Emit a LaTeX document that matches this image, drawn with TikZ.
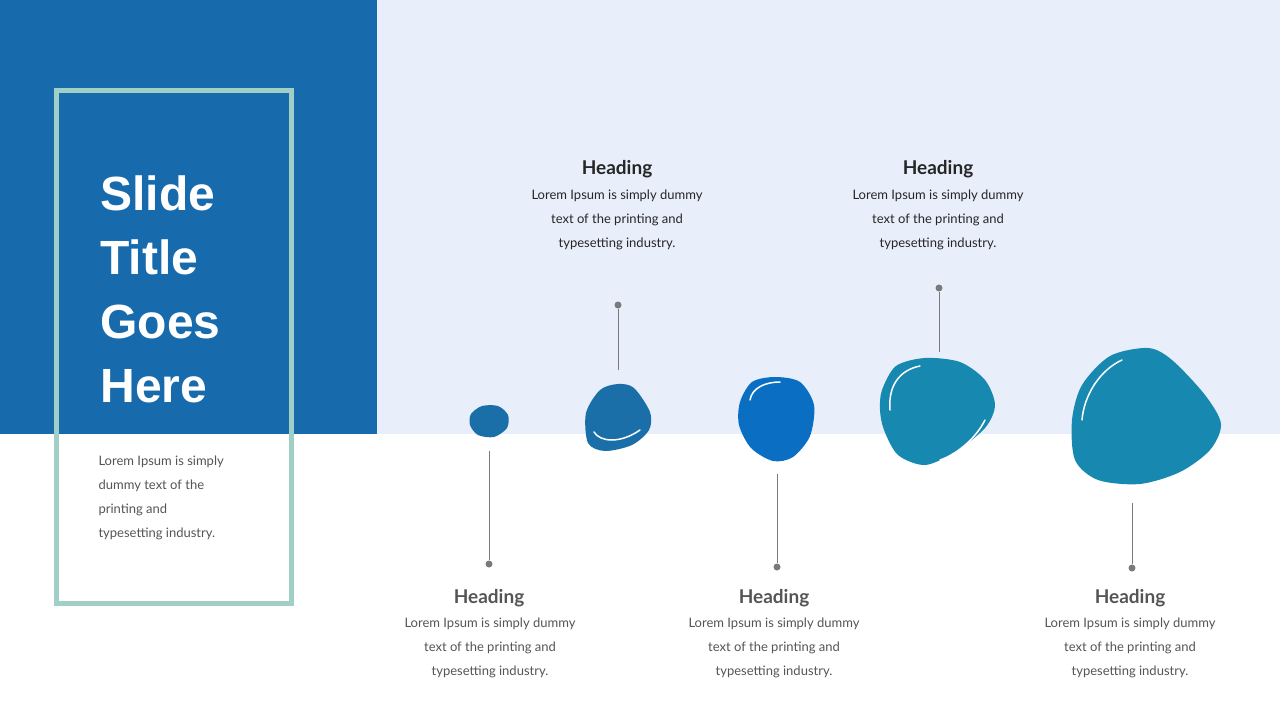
\documentclass[tikz,border=0pt]{standalone}
\usepackage{fontspec}
\usetikzlibrary{calc}
\setmainfont{Lato}
\newfontfamily\titlefont{Liberation Sans}
\definecolor{dblue}{HTML}{176BAD}
\definecolor{lbg}{HTML}{E8EFFA}
\definecolor{frame}{HTML}{9FCFC6}
\definecolor{bA}{HTML}{1A6FA8}
\definecolor{bC}{HTML}{0A6FC2}
\definecolor{bD}{HTML}{1789B0}
\definecolor{lgray}{HTML}{7A7A7A}
\definecolor{tgray}{HTML}{555555}
\begin{document}
\begin{tikzpicture}[x=1pt,y=-1pt,
  body/.style={align=center,font=\fontsize{13}{24}\selectfont,text=#1},
  head/.style={font=\fontsize{19}{22}\selectfont\bfseries,text=#1},
  pin/.style={draw=lgray,line width=1pt},
  dot/.style={circle,fill=lgray,inner sep=0pt,minimum size=7pt},
  hl/.style={draw=white,line width=1.5pt,line cap=round}]
\useasboundingbox (0,0) rectangle (1280,720);
\fill[white] (0,0) rectangle (1280,720);
\fill[lbg] (377,0) rectangle (1280,434);
\fill[dblue] (0,0) rectangle (377,434);
\draw[frame,line width=5pt] (56,90) rectangle (291,603);
\node[anchor=north west,text=white,align=left,font=\titlefont\fontsize{48}{64}\selectfont\bfseries] (title) at (97,172) {Slide\\Title\\Goes\\Here};
\node[anchor=north west,align=left,font=\fontsize{13}{24}\selectfont,text=tgray] (ltext) at (95,452) {Lorem Ipsum is simply\\dummy text of the\\printing and\\typesetting industry.};
% blobs
\fill[bA] plot[smooth cycle] coordinates {(471,414) (482,406) (498,406) (508,415) (507,428) (494,437) (478,435) (470,425)};
\coordinate (b1) at (489,437);
\fill[bA] plot[smooth cycle] coordinates {(586,413) (600,390) (618,384) (634,388) (650,412) (649,430) (632,445) (605,451) (588,443)};
\draw[hl] (594,432) .. controls (600,442) and (620,444) .. (640,430);
\coordinate (b2) at (618,385);
\fill[bC] plot[smooth cycle] coordinates {(740,402) (752,382) (775,377) (800,382) (814,405) (810,436) (793,457) (773,461) (751,448) (739,425)};
\draw[hl] (750,400) .. controls (752,388) and (765,382) .. (780,382);
\coordinate (b3) at (777,460);
\fill[bD] plot[smooth cycle] coordinates {(882,390) (896,366) (925,358) (960,362) (985,380) (995,405) (985,428) (955,452) (925,465) (898,455) (884,430) (880,410)};
\draw[hl] (890,410) .. controls (888,385) and (900,370) .. (920,366);
\draw[hl] (985,420) .. controls (975,440) and (955,455) .. (940,460);
\coordinate (b4) at (939,358);
\fill[bD] plot[smooth cycle] coordinates {(1072,420) (1082,385) (1110,356) (1148,348) (1172,360) (1205,395) (1221,424) (1210,450) (1180,472) (1140,484) (1098,480) (1075,460)};
\draw[hl] (1082,420) .. controls (1084,395) and (1100,370) .. (1122,360);
\coordinate (b5) at (1132,484);
% pins
\node[dot] (d1) at (489,564) {}; \draw[pin] ($(b1)+(0,14)$) -- (d1);
\node[dot] (d2) at (618,305) {}; \draw[pin] (d2) -- ($(b2)+(0,-15)$);
\node[dot] (d3) at (777,567) {}; \draw[pin] ($(b3)+(0,14)$) -- (d3);
\node[dot] (d4) at (939,288) {}; \draw[pin] (d4) -- ($(b4)+(0,-6)$);
\node[dot] (d5) at (1132,568) {}; \draw[pin] ($(b5)+(0,19)$) -- (d5);
% texts
\node[head=black!85] (h2) at (617,169) {Heading};
\node[body=black!85,anchor=north] (t2) at (617,186) {Lorem Ipsum is simply dummy\\text of the printing and\\typesetting industry.};
\node[head=black!85] (h4) at (938,169) {Heading};
\node[body=black!85,anchor=north] (t4) at (938,186) {Lorem Ipsum is simply dummy\\text of the printing and\\typesetting industry.};
\node[head=tgray] (h1) at (489,598) {Heading};
\node[body=tgray,anchor=north] (t1) at (490,614) {Lorem Ipsum is simply dummy\\text of the printing and\\typesetting industry.};
\node[head=tgray] (h3) at (774,598) {Heading};
\node[body=tgray,anchor=north] (t3) at (774,614) {Lorem Ipsum is simply dummy\\text of the printing and\\typesetting industry.};
\node[head=tgray] (h5) at (1130,598) {Heading};
\node[body=tgray,anchor=north] (t5) at (1130,614) {Lorem Ipsum is simply dummy\\text of the printing and\\typesetting industry.};
\end{tikzpicture}
\end{document}
